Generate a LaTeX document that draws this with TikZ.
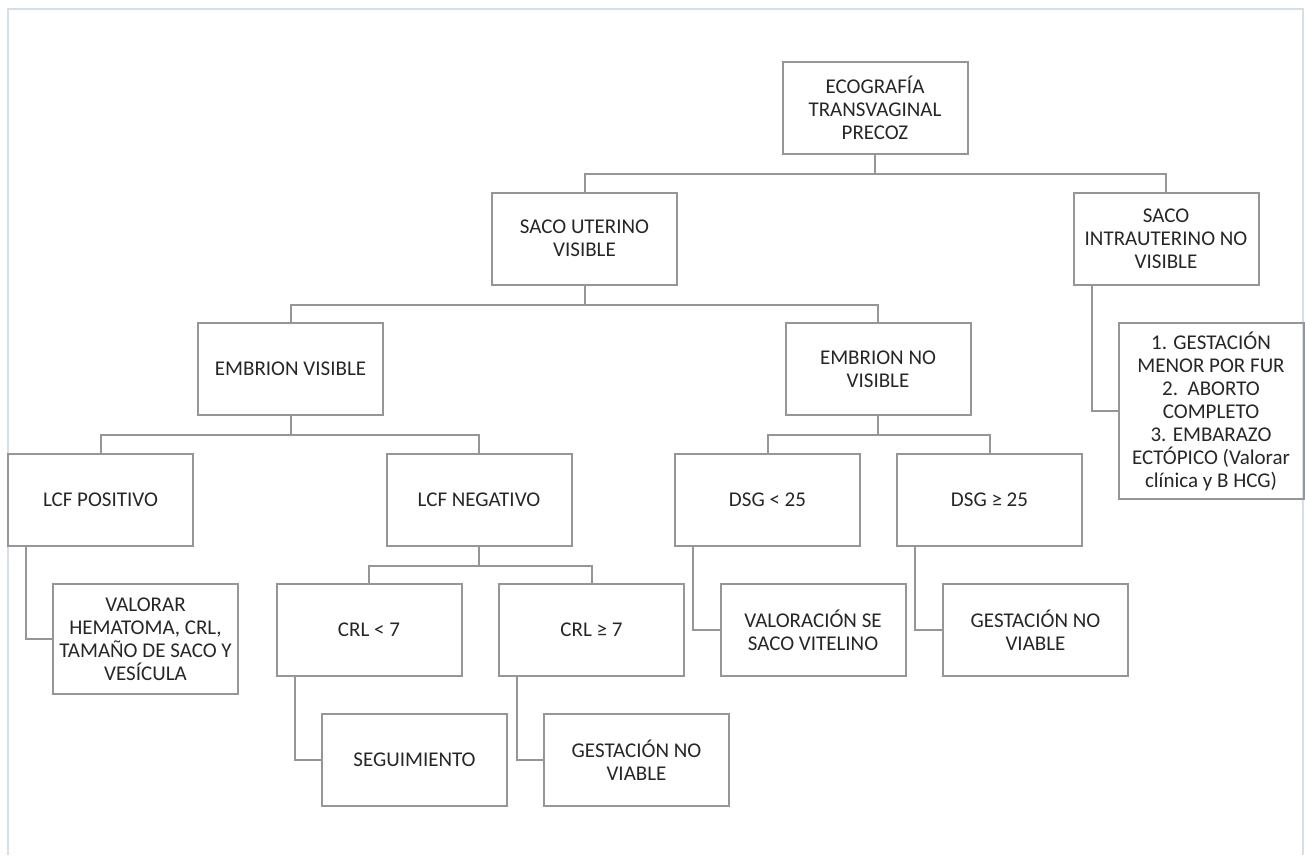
\documentclass[tikz,border=0pt]{standalone}
\usepackage{fontspec}
\setmainfont{Carlito}
\definecolor{grisborde}{RGB}{150,150,150}
\definecolor{gristexto}{RGB}{38,38,38}
\definecolor{grismarco}{RGB}{214,222,231}
\tikzset{
  caja/.style={draw=grisborde, line width=2pt, minimum width=185pt, minimum height=92pt,
    inner xsep=1pt, inner ysep=2pt, align=center, text=gristexto,
    font=\fontsize{21}{23}\selectfont},
  linea/.style={draw=grisborde, line width=2pt},
}
\begin{document}
\begin{tikzpicture}[x=1pt,y=-1pt]
\useasboundingbox (0,0) rectangle (1305,855);
% marco
\draw[grismarco, line width=2pt] (8,855) -- (8,9) -- (1303,9) -- (1303,855);

% cajas
\node[caja] (eco) at (875,108) {ECOGRAFÍA\\TRANSVAGINAL\\PRECOZ};
\node[caja] (sacov) at (584.5,238.5) {SACO UTERINO\\VISIBLE};
\node[caja] (sacoi) at (1166,238.5) {SACO\\INTRAUTERINO NO\\VISIBLE};
\node[caja] (embv) at (290.5,369) {EMBRION VISIBLE};
\node[caja] (embnv) at (878,369) {EMBRION NO\\VISIBLE};
\node[caja] (lcfp) at (100.5,499.5) {LCF POSITIVO};
\node[caja] (lcfn) at (479,499.5) {LCF NEGATIVO};
\node[caja] (dsgm) at (767.5,499.5) {DSG < 25};
\node[caja] (dsgM) at (989.5,499.5) {DSG ≥ 25};
\node[caja, minimum height=110pt] (valorar) at (145.5,639) {VALORAR\\HEMATOMA, CRL,\\TAMAÑO DE SACO Y\\VESÍCULA};
\node[caja] (crlm) at (369,629.5) {CRL < 7};
\node[caja] (crlM) at (591.5,629.5) {CRL ≥ 7};
\node[caja] (valsv) at (813,630) {VALORACIÓN SE\\SACO VITELINO};
\node[caja] (gnvb) at (1035.5,630) {GESTACIÓN NO\\VIABLE};
\node[caja] (seg) at (414.5,760) {SEGUIMIENTO};
\node[caja] (gnva) at (636.5,760) {GESTACIÓN NO\\VIABLE};
\node[caja, minimum height=176pt] (lista) at (1211,411) {1. GESTACIÓN\\MENOR POR FUR\\2.\ \ ABORTO\\COMPLETO\\3. EMBARAZO\\ECTÓPICO (Valorar\\clínica y B HCG)};

% ramas
\draw[linea] (eco.south) -- ++(0,19) -| (sacov.north);
\draw[linea] (eco.south) -- ++(0,19) -| (sacoi.north);
\draw[linea] (sacov.south) -- ++(0,19) -| (embv.north);
\draw[linea] (sacov.south) -- ++(0,19) -| (embnv.north);
\draw[linea] (embv.south) -- ++(0,19) -| (lcfp.north);
\draw[linea] (embv.south) -- ++(0,19) -| (lcfn.north);
\draw[linea] (embnv.south) -- ++(0,19) -| (dsgm.north);
\draw[linea] (embnv.south) -- ++(0,19) -| (dsgM.north);
\draw[linea] (lcfn.south) -- ++(0,19) -| (crlm.north);
\draw[linea] (lcfn.south) -- ++(0,19) -| (crlM.north);

% laterales
\draw[linea] ([xshift=19pt]lcfp.south west) |- (valorar.west);
\draw[linea] ([xshift=19pt]crlm.south west) |- (seg.west);
\draw[linea] ([xshift=19pt]crlM.south west) |- (gnva.west);
\draw[linea] ([xshift=19pt]dsgm.south west) |- (valsv.west);
\draw[linea] ([xshift=19pt]dsgM.south west) |- (gnvb.west);
\draw[linea] ([xshift=19pt]sacoi.south west) |- (lista.west);
\end{tikzpicture}
\end{document}
